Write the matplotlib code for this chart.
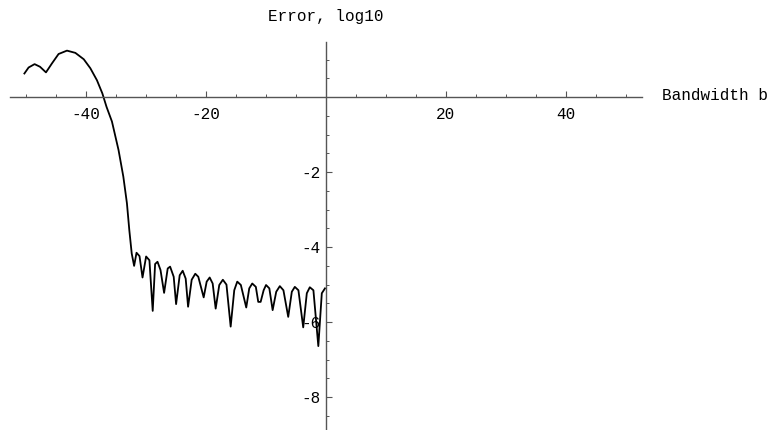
import numpy as np
import matplotlib
matplotlib.use('Agg')
import matplotlib.pyplot as plt
from matplotlib.ticker import MultipleLocator, FixedLocator

# bandwidth b and error (log10)
b = [-50.3, -49.6, -48.6, -47.7, -46.7, -45.7, -44.6, -43.2, -41.8, -40.4, -39.3, -38.2,
     -37.3, -36.6, -35.7, -34.6, -33.8, -33.2, -32.8, -32.4, -32.0,
     -31.6, -31.1, -30.6, -30.0, -29.45, -28.9, -28.5, -28.1, -27.6, -27.0,
     -26.4, -26.0, -25.4, -25.0, -24.4, -23.9, -23.4, -23.0, -22.4, -21.8,
     -21.3, -20.4, -19.9, -19.4, -18.9, -18.4, -17.8, -17.2, -16.6, -15.9,
     -15.3, -14.8, -14.2, -13.3, -12.8, -12.3, -11.7, -11.3, -10.9, -10.4,
     -10.0, -9.45, -8.9, -8.3, -7.7, -7.1, -6.3, -5.7, -5.2, -4.6,
     -3.8, -3.2, -2.7, -2.1, -1.28, -0.7, -0.17]
err = [0.63, 0.79, 0.88, 0.81, 0.66, 0.90, 1.15, 1.24, 1.18, 1.01, 0.77, 0.45,
       0.1, -0.26, -0.65, -1.41, -2.12, -2.83, -3.55, -4.17, -4.5,
       -4.15, -4.24, -4.81, -4.25, -4.35, -5.70, -4.45, -4.39, -4.61, -5.22,
       -4.57, -4.52, -4.79, -5.52, -4.75, -4.63, -4.84, -5.59, -4.87, -4.71,
       -4.79, -5.34, -4.92, -4.81, -4.97, -5.64, -5.01, -4.87, -5.0, -6.12,
       -5.15, -4.92, -5.01, -5.61, -5.10, -4.97, -5.06, -5.46, -5.46, -5.15,
       -5.01, -5.10, -5.68, -5.19, -5.04, -5.15, -5.86, -5.19, -5.06, -5.15,
       -6.14, -5.23, -5.07, -5.15, -6.64, -5.23, -5.10]

xticks = [-40, -20, 20, 40]
yticks = [-2, -4, -6, -8]

font = 'Liberation Mono'
plt.rcParams['font.family'] = [font, 'DejaVu Sans Mono']

fig = plt.figure(figsize=(7.76, 4.30), dpi=100)
ax = fig.add_axes([10/776, 1/430, 632/776, 387/430])
ax.set_xlim(-52.7, 52.7)
ax.set_ylim(-8.85, 1.47)

ax.plot(b, err, color='black', lw=1.3)

axcol = '#555555'
for s in ['top', 'right']:
    ax.spines[s].set_visible(False)
ax.spines['left'].set_position(('data', 0))
ax.spines['bottom'].set_position(('data', 0))
for s in ['left', 'bottom']:
    ax.spines[s].set_color(axcol)
    ax.spines[s].set_linewidth(1.0)

ax.xaxis.set_major_locator(FixedLocator(xticks))
ax.xaxis.set_minor_locator(MultipleLocator(5))
ax.yaxis.set_major_locator(FixedLocator(yticks))
ax.yaxis.set_minor_locator(MultipleLocator(0.5))
ax.tick_params(which='both', direction='in', color=axcol, labelsize=11.5)
ax.tick_params(which='major', length=4, width=0.8)
ax.tick_params(which='minor', length=2.5, width=0.7)
ax.tick_params(axis='x', pad=7)
ax.tick_params(axis='y', pad=4)
ax.set_xticklabels(['-40', '-20', '20', '40'])
ax.set_yticklabels(['-2', '-4', '-6', '-8'])
ax.set_facecolor('none')

fig.text(326/776, 1 - 17/430, 'Error, log10', ha='center', va='center', fontsize=11.5)
fig.text(662/776, 1 - 96/430, 'Bandwidth b', ha='left', va='center', fontsize=11.5)

fig.savefig('out.png', dpi=100)
